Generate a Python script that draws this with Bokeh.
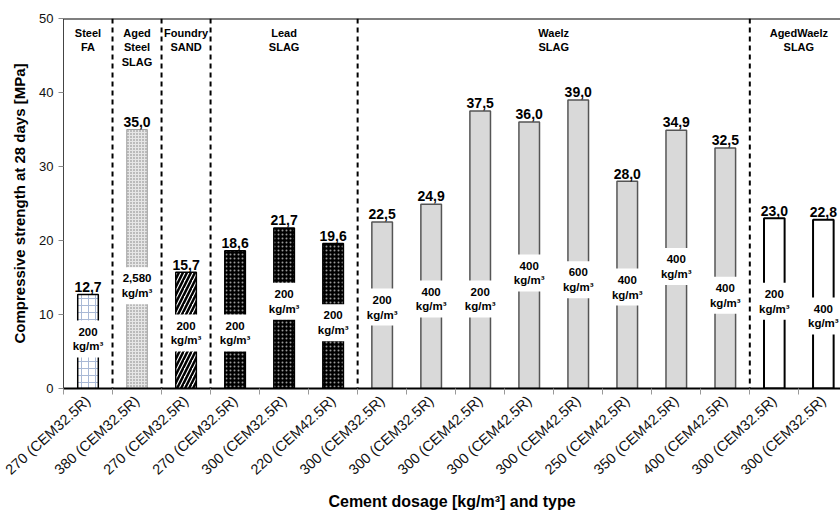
from bokeh.plotting import figure
from bokeh.models import FixedTicker, Span, Range1d
from bokeh.core.properties import value
from bokeh.embed import file_html
from bokeh.resources import INLINE

# ---- data ----
x_labels = ["270 (CEM32.5R)", "380 (CEM32.5R)", "270 (CEM32.5R)", "270 (CEM32.5R)",
            "300 (CEM32.5R)", "220 (CEM42.5R)", "300 (CEM32.5R)", "300 (CEM32.5R)",
            "300 (CEM42.5R)", "300 (CEM42.5R)", "300 (CEM42.5R)", "250 (CEM42.5R)",
            "350 (CEM42.5R)", "400 (CEM42.5R)", "300 (CEM32.5R)", "300 (CEM32.5R)"]
strength = [12.7, 35.0, 15.7, 18.6, 21.7, 19.6, 22.5, 24.9, 37.5, 36.0, 39.0, 28.0,
            34.9, 32.5, 23.0, 22.8]
dosage = ["200", "2,580", "200", "200", "200", "200", "200", "400", "200", "400",
          "600", "400", "400", "400", "200", "400"]
dosage_label_y = [6.7, 13.9, 7.5, 7.5, 11.8, 8.9, 11.0, 12.1, 12.1, 15.6, 14.7, 13.7,
                  16.5, 12.6, 11.8, 9.8]
material = ["steel_fa", "aged_steel", "foundry", "lead", "lead", "lead",
            "waelz", "waelz", "waelz", "waelz", "waelz", "waelz", "waelz", "waelz",
            "aged_waelz", "aged_waelz"]
groups = ["Steel\nFA", "Aged\nSteel\nSLAG", "Foundry\nSAND", "Lead\nSLAG",
          "Waelz\nSLAG", "AgedWaelz\nSLAG"]
group_sizes = [1, 1, 1, 3, 8, 2]

FONT = "Liberation Sans"
idx = list(range(len(strength)))

p = figure(width=840, height=515, x_range=Range1d(-0.5, 15.35), y_range=Range1d(0, 50),
           output_backend="svg", toolbar_location=None,
           min_border_left=63, min_border_right=0, min_border_top=18, min_border_bottom=127)
p.xgrid.visible = False
p.ygrid.visible = False
p.outline_line_color = None
p.background_fill_color = "white"

styles = {
    "steel_fa": dict(fill_color="white", line_color="black", line_width=1.5,
                     hatch_pattern="+", hatch_color="#a9b9d6", hatch_scale=7, hatch_weight=1),
    "aged_steel": dict(fill_color="#e6e6e6", line_color="#a0a0a0", line_width=1,
                       hatch_pattern=".", hatch_color="#7a7a7a", hatch_scale=3, hatch_weight=1),
    "foundry": dict(fill_color="white", line_color="black", line_width=1.5,
                    hatch_pattern="/", hatch_color="black", hatch_scale=8, hatch_weight=2.5),
    "lead": dict(fill_color="black", line_color="black", line_width=1.5,
                 hatch_pattern=".", hatch_color="#999999", hatch_scale=4, hatch_weight=0.8),
    "waelz": dict(fill_color="#d9d9d9", line_color="#555555", line_width=1.5),
    "aged_waelz": dict(fill_color="white", line_color="black", line_width=2),
}
for m, st in styles.items():
    xs = [i for i in idx if material[i] == m]
    tops = [strength[i] for i in idx if material[i] == m]
    p.vbar(x=xs, top=tops, bottom=0, width=0.42, **st)

# white boxes and dosage labels inside bars
p.rect(x=idx, y=dosage_label_y, width=40, height=37, width_units="screen",
       height_units="screen", fill_color="white", line_color=None)
p.text(x=idx, y=[y + 1.0 for y in dosage_label_y], text=dosage, text_align="center",
       text_baseline="middle", text_font=value(FONT), text_font_style="bold",
       text_font_size="11.5px", text_color="black")
p.text(x=idx, y=[y - 1.0 for y in dosage_label_y], text=["kg/m³"] * len(idx),
       text_align="center", text_baseline="middle", text_font=value(FONT),
       text_font_style="bold", text_font_size="11.5px", text_color="black")

# value labels
value_text = [f"{v:.1f}".replace(".", ",") for v in strength]
p.text(x=idx, y=[v + 1.05 for v in strength], text=value_text, text_align="center",
       text_baseline="alphabetic", text_font=value(FONT), text_font_style="bold",
       text_font_size="14px", text_color="black")

# group separators and group labels
starts = []
s = 0
for n in group_sizes:
    starts.append(s)
    s += n
for st in starts[1:]:
    p.add_layout(Span(location=st - 0.5, dimension="height", line_color="black",
                      line_width=2, line_dash="5 4"))
centers = [st + (n - 1) / 2 for st, n in zip(starts, group_sizes)]
p.text(x=centers, y=[48.85] * len(groups), text=groups, text_align="center",
       text_baseline="top", text_font=value(FONT), text_font_style="bold",
       text_font_size="11px", text_line_height=1.2, text_color="black")

p.add_layout(Span(location=50, dimension="width", line_color="black", line_width=2))

# axes
xa = p.xaxis[0]
xa.ticker = FixedTicker(ticks=idx, minor_ticks=[i - 0.5 for i in range(len(idx) + 1)])
xa.major_label_overrides = {i: lbl for i, lbl in zip(idx, x_labels)}
xa.major_label_orientation = 0.74
xa.major_tick_line_color = None
xa.minor_tick_in = 0
xa.minor_tick_out = 6
xa.minor_tick_line_color = "#999999"
xa.axis_line_color = "black"
xa.axis_line_width = 2
xa.major_label_text_font = FONT
xa.major_label_text_font_size = "14.5px"
xa.major_label_text_color = "#111111"
xa.major_label_standoff = 4
xa.axis_label = "Cement dosage [kg/m³] and type"
xa.axis_label_text_font = FONT
xa.axis_label_text_font_style = "bold"
xa.axis_label_text_font_size = "16px"
xa.axis_label_text_color = "black"
xa.axis_label_standoff = 6

ya = p.yaxis[0]
ya.ticker = FixedTicker(ticks=[0, 10, 20, 30, 40, 50])
ya.minor_tick_line_color = None
ya.major_tick_in = 0
ya.major_tick_out = 5
ya.major_tick_line_color = "#888888"
ya.axis_line_color = "#444444"
ya.axis_line_width = 1
ya.major_label_text_font = FONT
ya.major_label_text_font_size = "13px"
ya.major_label_text_color = "#111111"
ya.major_label_standoff = 5
ya.axis_label = "Compressive strength at 28 days [MPa]"
ya.axis_label_text_font = FONT
ya.axis_label_text_font_style = "bold"
ya.axis_label_text_font_size = "15px"
ya.axis_label_text_color = "black"
ya.axis_label_standoff = 8

open("out.html", "w").write(file_html(p, INLINE))
